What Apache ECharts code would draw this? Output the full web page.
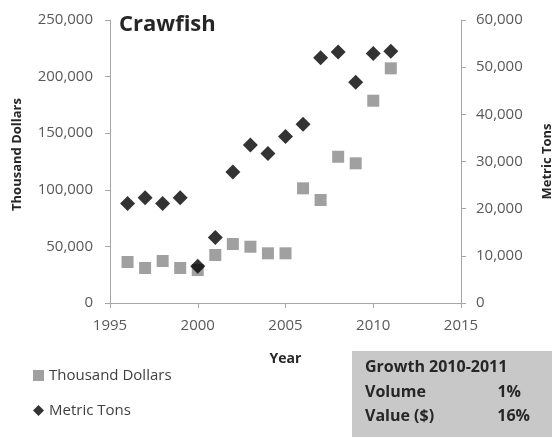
<!DOCTYPE html>
<html><head><meta charset="utf-8">
<script src="https://cdn.jsdelivr.net/npm/echarts@6/dist/echarts.min.js"></script>
<style>html,body{margin:0;padding:0;background:#fff}#c{width:552px;height:437px}</style>
</head><body><div id="c"></div>
<script>
var years = [1996,1997,1998,1999,2000,2001,2002,2003,2004,2005,2006,2007,2008,2009,2010,2011];
var thousandDollars = [36200,30900,37100,30900,29100,42400,52100,49700,43900,43900,101300,91000,129200,123400,178700,207300];
var metricTons = [21100,22300,21100,22300,7800,13900,27800,33500,31700,35300,37900,52000,53200,46800,52900,53400];
var growthRows = [["Volume","1%"],["Value ($)","16%"]];

var FONT = '"Open Sans", "Noto Sans", sans-serif';
function fmt(v){ return v.toLocaleString('en-US'); }
var axisLineStyle = {lineStyle:{color:'#a6a6a6', width:1}};

var chart = echarts.init(document.getElementById('c'));
chart.setOption({
  animation:false,
  textStyle:{fontFamily:FONT},
  title:{text:'Crawfish', left:114, top:9, textStyle:{fontFamily:FONT, fontSize:22, fontWeight:'bold', color:'#262626'}},
  grid:{left:110, right:91, top:20, bottom:134, containLabel:false, outerBoundsMode:'none'},
  legend:{
    orient:'vertical', left:28, top:363, itemGap:20, itemWidth:11, itemHeight:11,
    textStyle:{fontFamily:FONT, fontSize:15, color:'#404040'},
    data:[{name:'Thousand Dollars', icon:'rect'},{name:'Metric Tons', icon:'diamond'}]
  },
  xAxis:{
    type:'value', min:1995, max:2015, interval:5,
    name:'Year', nameLocation:'middle', nameGap:49,
    nameTextStyle:{fontFamily:FONT, fontSize:14, fontWeight:'bold', color:'#262626'},
    axisLine:axisLineStyle, axisTick:{show:true, inside:false, length:5, lineStyle:{color:'#a6a6a6'}},
    axisLabel:{fontFamily:FONT, fontSize:15, color:'#595959', margin:15, formatter:function(v){return String(v);}},
    splitLine:{show:false}
  },
  yAxis:[{
    type:'value', min:0, max:250000, interval:50000, position:'left',
    name:'Thousand Dollars', nameLocation:'middle', nameRotate:90, nameGap:86,
    nameTextStyle:{fontFamily:FONT, fontSize:13, fontWeight:'bold', color:'#262626', padding:[0,0,0,14]},
    axisLine:{show:true, lineStyle:{color:'#a6a6a6'}}, axisTick:{show:true, length:5, lineStyle:{color:'#a6a6a6'}},
    axisLabel:{fontFamily:FONT, fontSize:15, color:'#595959', margin:17, formatter:fmt},
    splitLine:{show:false}
  },{
    type:'value', min:0, max:60000, interval:10000, position:'right',
    name:'Metric Tons', nameLocation:'middle', nameRotate:90, nameGap:80,
    nameTextStyle:{fontFamily:FONT, fontSize:13, fontWeight:'bold', color:'#262626'},
    axisLine:{show:true, lineStyle:{color:'#a6a6a6'}}, axisTick:{show:true, length:5, lineStyle:{color:'#a6a6a6'}},
    axisLabel:{fontFamily:FONT, fontSize:15, color:'#595959', margin:15, formatter:fmt},
    splitLine:{show:false}
  }],
  series:[{
    name:'Thousand Dollars', type:'scatter', yAxisIndex:0, symbol:'rect', symbolSize:12,
    itemStyle:{color:'#888888'},
    data:years.map(function(y,i){return [y, thousandDollars[i]];})
  },{
    name:'Metric Tons', type:'scatter', yAxisIndex:1, symbol:'diamond', symbolSize:15,
    itemStyle:{color:'#000000'},
    data:years.map(function(y,i){return [y, metricTons[i]];})
  }],
  graphic:[
    {type:'rect', shape:{x:352, y:351, width:200, height:86}, style:{fill:'#c8c8c8'}, z:0},
    {type:'text', left:365, top:359, style:{text:'Growth 2010-2011', font:'bold 16px '+FONT, fill:'#262626'}, z:1},
    {type:'text', left:365, top:384, style:{text:growthRows[0][0], font:'bold 16px '+FONT, fill:'#262626'}, z:1},
    {type:'text', right:31, top:384, style:{text:growthRows[0][1], font:'bold 16px '+FONT, fill:'#262626'}, z:1},
    {type:'text', left:365, top:408, style:{text:growthRows[1][0], font:'bold 16px '+FONT, fill:'#262626'}, z:1},
    {type:'text', right:22, top:408, style:{text:growthRows[1][1], font:'bold 16px '+FONT, fill:'#262626'}, z:1}
  ]
});
</script></body></html>
